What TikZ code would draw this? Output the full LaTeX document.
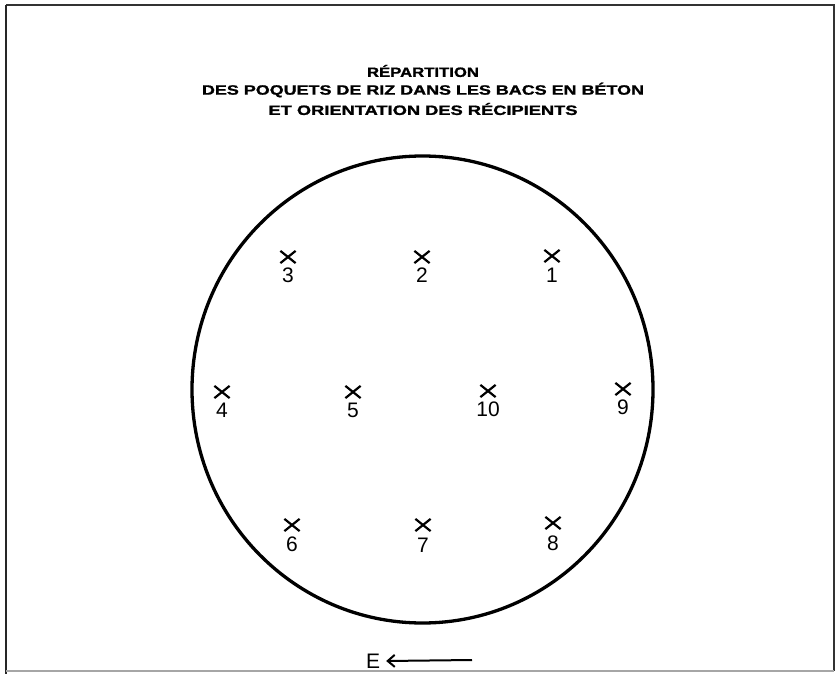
\documentclass[tikz,border=0pt]{standalone}
\usepackage{fontspec}
\usepackage{graphicx}
\setmainfont{Liberation Sans}
\newfontfamily\titlefont{Liberation Sans Bold}[FakeBold=1.2]
\usetikzlibrary{shapes.misc,arrows.meta}
\tikzset{
  mark cross/.style={cross out, draw, minimum width=13pt, minimum height=10pt, inner sep=0pt, line width=2.2pt},
  mark num/.style={font=\fontsize{21}{21}\selectfont, inner sep=0pt},
  title line/.style={font=\fontsize{13.5}{13.5}\titlefont, inner sep=0pt},
}
\newcommand{\poquet}[4]{%
  \node[mark cross] (c#1) at (#2,#3) {};
  \node[mark num] (n#1) at (#2,#4) {#1};
}
\begin{document}
\begin{tikzpicture}[x=1pt,y=-1pt]
\useasboundingbox (0,0) rectangle (838,674);
\fill[white] (0,0) rectangle (838,674);
% frame
\draw[line width=2pt, black!80] (6,5) -- (834,5) -- (834,671);
\draw[line width=2pt, black!85] (6,5) -- (6,674);
\draw[line width=1.5pt, black!35] (6,671) -- (834,671);
% title
\node[title line] (t1) at (423,71) {\resizebox{112pt}{\height}{RÉPARTITION}};
\node[title line] (t2) at (423,90) {\resizebox{442pt}{\height}{DES POQUETS DE RIZ DANS LES BACS EN BÉTON}};
\node[title line] (t3) at (423,109) {\resizebox{309pt}{\height}{ET ORIENTATION DES RÉCIPIENTS}};
% basin
\draw[line width=3.3pt] (422.5,389.5) ellipse [x radius=230.5, y radius=233.5];
% poquets
\poquet{1}{552}{256}{275}
\poquet{2}{422}{257}{275}
\poquet{3}{288}{257}{275}
\poquet{4}{222}{392}{410}
\poquet{5}{353}{392}{410}
\poquet{10}{488}{391}{409}
\poquet{9}{623}{389}{407}
\poquet{6}{292}{525}{544}
\poquet{7}{423}{525}{545}
\poquet{8}{553}{523}{543}
% orientation
\node[mark num] (E) at (373,661) {E};
\coordinate (arrowstart) at (472,660);
\draw[line width=2pt, -{Straight Barb[length=7pt,width=12pt]}] (arrowstart) -- ([xshift=6pt]E.east);
\end{tikzpicture}
\end{document}
